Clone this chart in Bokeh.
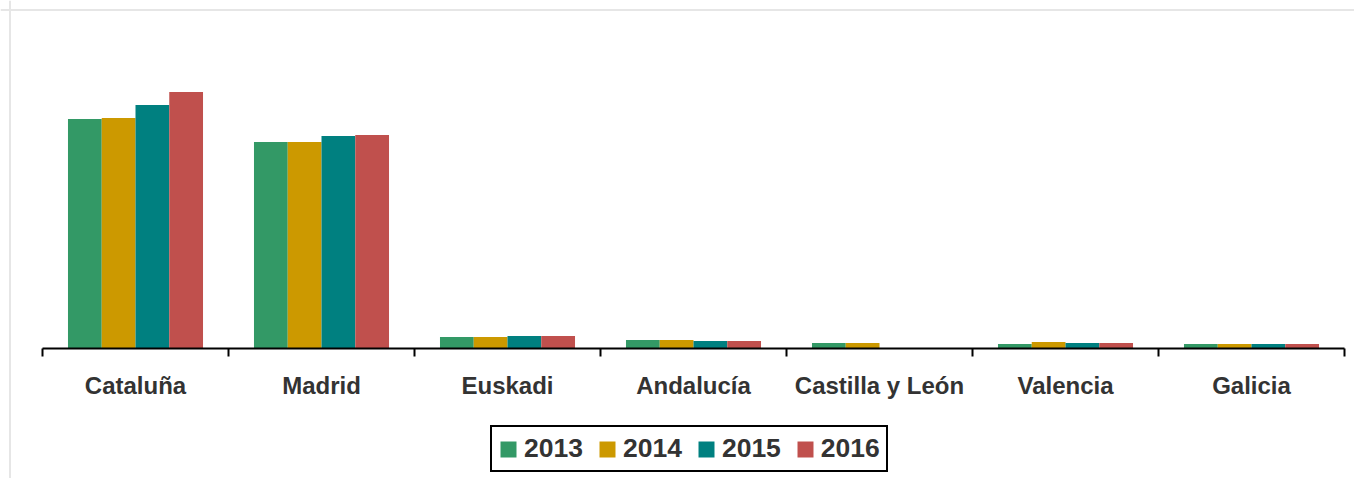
from bokeh.plotting import figure
from bokeh.models import FixedTicker, Range1d, Span, Legend, LegendItem
from bokeh.embed import file_html
from bokeh.resources import INLINE

categories = ["Cataluña", "Madrid", "Euskadi", "Andalucía", "Castilla y León", "Valencia", "Galicia"]
years = ["2013", "2014", "2015", "2016"]
v2013 = [229.5, 206.5, 11.5, 8.5, 5.5, 4.5, 4.5]
v2014 = [230.5, 206.5, 11.5, 8.5, 5.5, 6.5, 4.5]
v2015 = [243.5, 212.5, 12.5, 7.5, 0.0, 5.5, 4.5]
v2016 = [256.5, 213.5, 12.5, 7.5, 0.0, 5.5, 4.5]
colors = ["#339966", "#CC9900", "#008080", "#C0504D"]

series = [v2013, v2014, v2015, v2016]
n = len(categories)
bar_w = 0.1815
x_start = -42 / 186
x_end = x_start + 1354 / 186
y_start = -130.0
y_end = 348.0

p = figure(width=1354, height=478, output_backend="svg", toolbar_location=None,
           x_range=Range1d(x_start, x_end), y_range=Range1d(y_start, y_end),
           y_axis_location=None, min_border_left=0, min_border_right=0,
           min_border_top=0, min_border_bottom=0)
p.outline_line_color = None
p.xgrid.visible = False
p.ygrid.visible = False
p.background_fill_color = "white"
p.border_fill_color = "white"

centers = [i + 0.5 for i in range(n)]
renderers = []
for k, vals in enumerate(series):
    off = (k - 1.5) * bar_w
    r = p.vbar(x=[c + off for c in centers], top=vals, bottom=0, width=bar_w,
               fill_color=colors[k], line_color=None)
    renderers.append(r)

ax = p.xaxis[0]
ax.fixed_location = 0
ax.ticker = FixedTicker(ticks=centers, minor_ticks=list(range(n + 1)))
ax.bounds = (0, n)
ax.major_label_overrides = {c: name for c, name in zip(centers, categories)}
ax.axis_line_color = "black"
ax.axis_line_width = 2
ax.major_tick_out = 0
ax.major_tick_in = 0
ax.minor_tick_out = 8
ax.minor_tick_in = 0
ax.minor_tick_line_color = "black"
ax.minor_tick_line_width = 2
ax.major_label_standoff = 15
ax.major_label_text_font = "Liberation Sans"
ax.major_label_text_font_style = "bold"
ax.major_label_text_font_size = "24px"
ax.major_label_text_color = "#333333"

# light frame border (top and left)
p.add_layout(Span(location=y_end - 9.5, dimension="width", line_color="#E6E6E6", line_width=2))
p.add_layout(Span(location=x_start + 9.5 / 186, dimension="height", line_color="#E6E6E6", line_width=2))

legend = Legend(items=[LegendItem(label=y, renderers=[r]) for y, r in zip(years, renderers)],
                orientation="horizontal", location=(490, 6), margin=0,
                glyph_width=20, glyph_height=20, label_standoff=6, spacing=14, padding=6,
                border_line_color="black", border_line_width=2, border_line_alpha=1.0,
                background_fill_color="white", background_fill_alpha=1.0,
                label_text_font="Liberation Sans", label_text_font_style="bold",
                label_text_font_size="26.5px", label_text_color="#333333")
p.add_layout(legend, "center")

open("out.html", "w").write(file_html(p, INLINE))
